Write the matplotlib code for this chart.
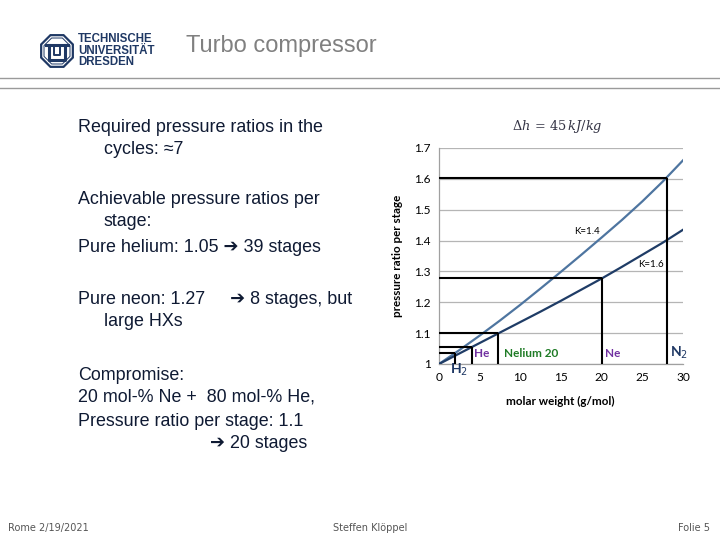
import matplotlib
matplotlib.use('Agg')
import matplotlib.pyplot as plt
from matplotlib.lines import Line2D
from matplotlib.patches import Polygon
import numpy as np

# --- chart data ---
molar_weight = [0, 2.5, 5, 7.5, 10, 12.5, 15, 17.5, 20, 22.5, 25, 27.5, 30]
ratio_k14 = [1.0, 1.045, 1.092, 1.141, 1.192, 1.245, 1.299, 1.354, 1.410,
             1.467, 1.527, 1.591, 1.66]
ratio_k16 = [1.0, 1.034, 1.068, 1.102, 1.136, 1.170, 1.205, 1.241, 1.277,
             1.315, 1.354, 1.393, 1.435]

gas_names = ['H$_2$', 'He', 'Nelium 20', 'Ne', 'N$_2$']
gas_weight = [2.0, 4.0, 7.2, 20.1, 28.0]
gas_ratio = [1.037, 1.054, 1.099, 1.279, 1.603]

y_ticks = [1, 1.1, 1.2, 1.3, 1.4, 1.5, 1.6, 1.7]
y_ticklabels = ['1', '1.1', '1.2', '1.3', '1.4', '1.5', '1.6', '1.7']
x_ticks = [0, 5, 10, 15, 20, 25, 30]

bullets = [
    (78, 128, 'Required pressure ratios in the'),
    (104, 149, 'cycles: \u22487'),
    (78, 200, 'Achievable pressure ratios per'),
    (104, 222, 'stage:'),
    (78, 248, 'Pure helium: 1.05 \u2794 39 stages'),
    (78, 299, 'Pure neon: 1.27     \u2794 8 stages, but'),
    (104, 321, 'large HXs'),
    (78, 375, 'Compromise:'),
    (78, 397, '20 mol-% Ne +  80 mol-% He,'),
    (78, 421, 'Pressure ratio per stage: 1.1'),
    (210, 443, '\u2794 20 stages'),
]

W, H = 720, 540
TEXT = '#0f1a33'
NAVY = '#1f3864'


def fx(px):
    return px / W


def fy(py):
    return 1 - py / H


fig = plt.figure(figsize=(7.2, 5.4), dpi=100)
fig.patch.set_facecolor('white')

# header
for yy in (78, 88):
    fig.add_artist(Line2D([0, 1], [fy(yy), fy(yy)], color='#9a9a9a', lw=1.0))
fig.text(fx(186), fy(46), 'Turbo compressor', fontsize=17, color='#808080',
         family='Liberation Sans', va='center', ha='left')

# TU Dresden logo (rough)
lax = fig.add_axes([fx(39), fy(69), 36 / W, 36 / H])
lax.set_xlim(-1.05, 1.05)
lax.set_ylim(-1.05, 1.05)
lax.set_aspect('equal')
lax.axis('off')
ang = np.radians(22.5 + 45 * np.arange(8))
lax.add_patch(Polygon(np.c_[np.cos(ang), np.sin(ang)], closed=True, fill=False,
                      edgecolor=NAVY, lw=1.6))
lax.add_patch(Polygon(np.c_[0.82 * np.cos(ang), 0.82 * np.sin(ang)], closed=True,
                      fill=False, edgecolor=NAVY, lw=0.7))
lax.plot([-0.62, 0.62], [0.35, 0.35], color=NAVY, lw=2.2)
lax.plot([-0.45, -0.45, 0.45, 0.45], [0.35, -0.55, -0.55, 0.35], color=NAVY, lw=2.2)
lax.plot([-0.15, -0.15, 0.15, 0.15], [0.35, -0.25, -0.25, 0.35], color=NAVY, lw=1.4)
for i, line in enumerate(['TECHNISCHE', 'UNIVERSIT\u00c4T', 'DRESDEN']):
    fig.text(fx(78), fy(39 + i * 11.5), line, fontsize=8.3, fontweight='bold',
             color=NAVY, family='Liberation Sans', va='center', ha='left')

# bullet text
for x, y, s in bullets:
    fig.text(fx(x), fy(y), s, fontsize=12.9, color=TEXT,
             family=['Liberation Sans', 'DejaVu Sans'], va='center', ha='left')

# footer
fig.text(fx(8), fy(528), 'Rome 2/19/2021', fontsize=7, color='#555555', va='center')
fig.text(fx(370), fy(528), 'Steffen Kl\u00f6ppel', fontsize=7, color='#555555',
         va='center', ha='center')
fig.text(fx(710), fy(528), 'Folie 5', fontsize=7, color='#555555', va='center', ha='right')

# chart
ax = fig.add_axes([fx(439), fy(364), (683 - 439) / W, (364 - 148) / H])
ax.set_xlim(0, 30)
ax.set_ylim(1, 1.7)
ax.set_yticks(y_ticks)
ax.set_yticklabels(y_ticklabels)
ax.set_xticks(x_ticks)
ax.grid(axis='y', color='#b5b5b5', lw=0.9)
ax.set_axisbelow(True)
for side in ('top', 'right'):
    ax.spines[side].set_visible(False)
for side in ('left', 'bottom'):
    ax.spines[side].set_color('#a0a0a0')
    ax.spines[side].set_linewidth(0.9)
ax.tick_params(length=0, labelsize=8.6, pad=6)
for lab in ax.get_xticklabels() + ax.get_yticklabels():
    lab.set_family('Lato')

ax.plot(molar_weight, ratio_k14, color='#4e75a0', lw=1.6, zorder=3)
ax.plot(molar_weight, ratio_k16, color='#1f3c66', lw=1.6, zorder=3)
ax.text(18.2, 1.43, 'K=1.4', fontsize=7, ha='center', va='center', family='Lato')
ax.text(26.0, 1.322, 'K=1.6', fontsize=7, ha='center', va='center', family='Lato')

for xw, yr in zip(gas_weight, gas_ratio):
    ax.plot([0, xw], [yr, yr], color='black', lw=1.5, zorder=4, solid_capstyle='butt')
    ax.plot([xw, xw], [1, yr], color='black', lw=1.5, zorder=4, solid_capstyle='butt')

label_style = {
    'H$_2$': dict(x=1.4, y=0.981, color=NAVY, size=10),
    'He': dict(x=4.3, y=1.033, color='#7030a0', size=8.5),
    'Nelium 20': dict(x=8.0, y=1.033, color='#1e7b25', size=8.5),
    'Ne': dict(x=20.4, y=1.033, color='#7030a0', size=8.5),
    'N$_2$': dict(x=28.4, y=1.036, color=NAVY, size=10),
}
for name in gas_names:
    st = label_style[name]
    ax.text(st['x'], st['y'], name, color=st['color'], fontsize=st['size'],
            fontweight='bold', family='Lato', ha='left', va='center', clip_on=False,
            zorder=5)

ax.set_ylabel('pressure ratio per stage', fontsize=8.4, fontweight='bold', family='Lato')
ax.set_xlabel('molar weight (g/mol)', fontsize=8.4, fontweight='bold', family='Lato')
ax.yaxis.set_label_coords(-0.148, 0.5)
ax.xaxis.set_label_coords(0.496, -0.148)
ax.text(0.484, 1.10, r'$\Delta h\, =\, 45\,kJ/kg$', transform=ax.transAxes,
        fontsize=9.3, color='#333344', ha='center', va='center',
        math_fontfamily='dejavuserif')

fig.savefig('out.png', dpi=100, facecolor='white')
